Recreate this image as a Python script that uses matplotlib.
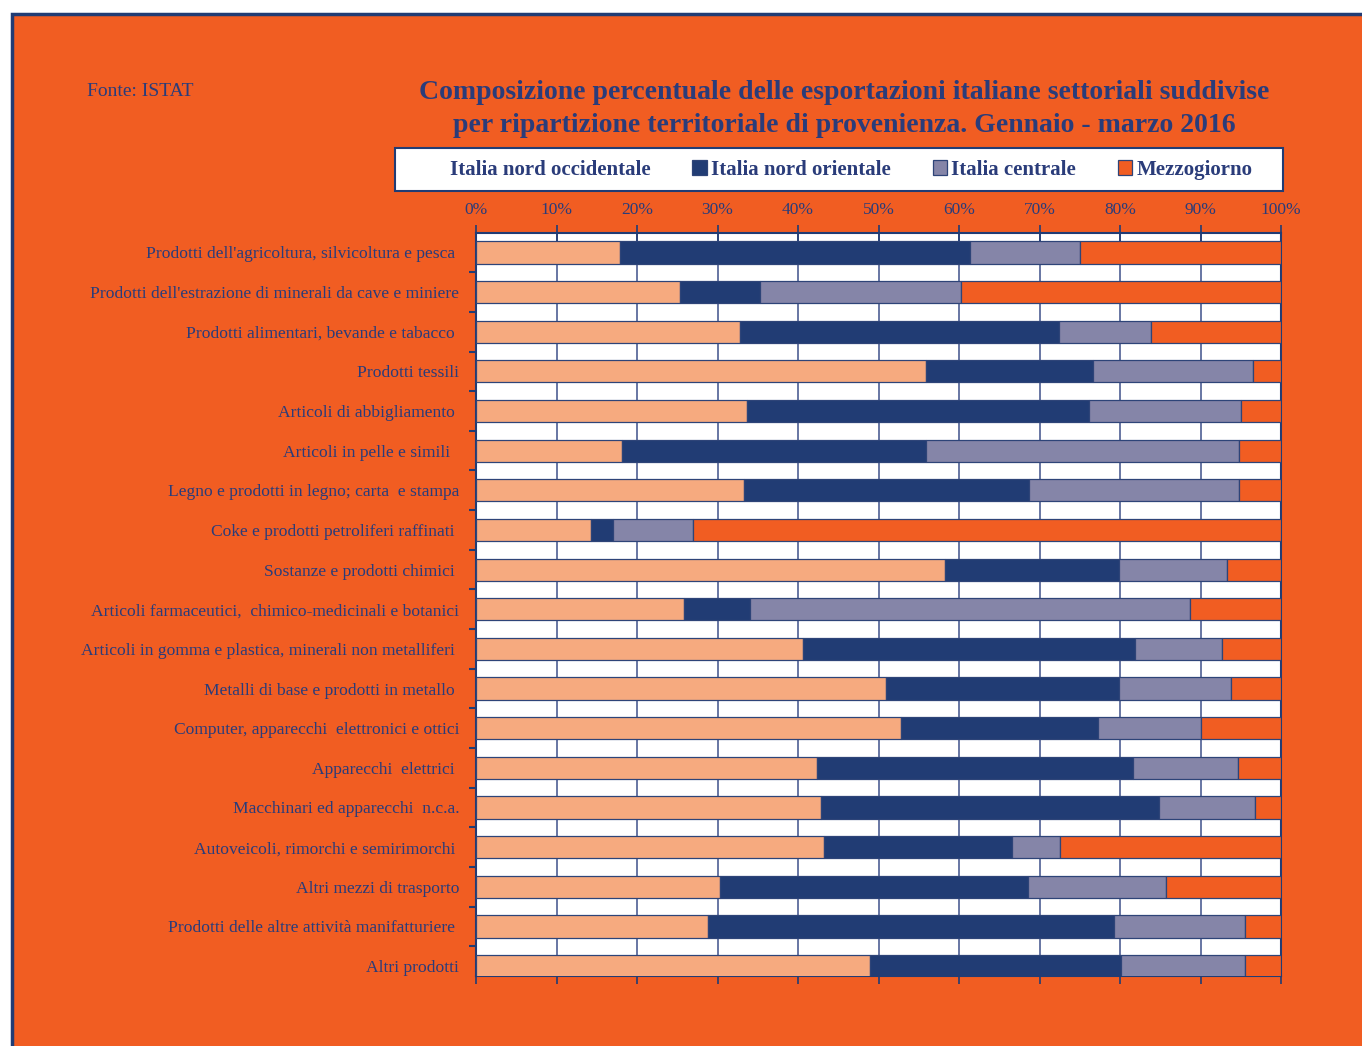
import matplotlib.pyplot as plt
import numpy as np
from matplotlib.patches import Rectangle


ORANGE = "#F15D22"
PEACH = "#F6AA7F"
NAVY = "#213C74"
GREY = "#8585A8"
TEXT = "#2A3C7A"

CATEGORIES = [
    "Prodotti dell'agricoltura, silvicoltura e pesca ",
    "Prodotti dell'estrazione di minerali da cave e miniere",
    "Prodotti alimentari, bevande e tabacco ",
    "Prodotti tessili",
    "Articoli di abbigliamento ",
    "Articoli in pelle e simili  ",
    "Legno e prodotti in legno; carta  e stampa",
    "Coke e prodotti petroliferi raffinati ",
    "Sostanze e prodotti chimici ",
    "Articoli farmaceutici,  chimico-medicinali e botanici",
    "Articoli in gomma e plastica, minerali non metalliferi ",
    "Metalli di base e prodotti in metallo ",
    "Computer, apparecchi  elettronici e ottici",
    "Apparecchi  elettrici ",
    "Macchinari ed apparecchi  n.c.a.",
    "Autoveicoli, rimorchi e semirimorchi ",
    "Altri mezzi di trasporto",
    "Prodotti delle altre attività manifatturiere ",
    "Altri prodotti",
]

# quote percentuali per ripartizione
nord_occ = [17.9, 25.3, 32.8, 55.9, 33.7, 18.1, 33.3, 14.3, 58.3, 25.8,
            40.6, 50.9, 52.8, 42.4, 42.9, 43.2, 30.3, 28.8, 48.9]
nord_or = [43.5, 10.0, 39.6, 20.7, 42.4, 37.8, 35.4, 2.7, 21.6, 8.2,
           41.3, 29.0, 24.5, 39.2, 41.9, 23.4, 38.3, 50.5, 31.2]
centrale = [13.6, 25.0, 11.5, 19.9, 18.9, 38.9, 26.1, 10.0, 13.4, 54.7,
            10.8, 13.9, 12.8, 13.0, 12.0, 5.9, 17.1, 16.2, 15.4]
mezzogiorno = [25.0, 39.7, 16.1, 3.5, 5.0, 5.2, 5.2, 73.0, 6.7, 11.3,
               7.3, 6.2, 9.9, 5.4, 3.2, 27.5, 14.3, 4.5, 4.5]

SERIES = ["Italia nord occidentale", "Italia nord orientale", "Italia centrale", "Mezzogiorno"]
COLORS = [PEACH, NAVY, GREY, ORANGE]

plt.rcParams["font.family"] = ["Liberation Serif", "DejaVu Serif"]

W, H = 1362, 1046
fig = plt.figure(figsize=(W / 100, H / 100), dpi=100, facecolor="white")

# orange panel with navy border (top and left)
fig.patches.append(Rectangle((12 / W, -0.01), 1.02, 1 - 14 / H + 0.01, transform=fig.transFigure,
                             facecolor=ORANGE, edgecolor=NAVY, linewidth=2.5, zorder=-10))
# white legend box
fig.patches.append(Rectangle((395 / W, 1 - 191 / H), 888 / W, 43 / H, transform=fig.transFigure,
                             facecolor="white", edgecolor=NAVY, linewidth=1.5, zorder=-5))

ax = fig.add_axes([476 / W, 1 - 976 / H, (1281 - 476) / W, (976 - 233) / H])
ax.set_facecolor("white")

y = np.arange(len(CATEGORIES))
left = np.zeros(len(CATEGORIES))
handles = []
for name, vals, col in zip(SERIES, [nord_occ, nord_or, centrale, mezzogiorno], COLORS):
    vals = np.array(vals)
    b = ax.barh(y, vals, left=left, height=0.56, color=col, edgecolor="#2E4478",
                linewidth=0.9, label=name, zorder=3)
    handles.append(b)
    left += vals

ax.set_xticks(np.arange(0, 101, 10))
ax.set_xticklabels([f"{v}%" for v in range(0, 101, 10)])
ax.xaxis.tick_top()
ax.tick_params(axis="x", which="both", top=True, bottom=True, labeltop=True, labelbottom=False,
               direction="inout", length=12, width=1.2, color=NAVY, labelsize=12.5,
               labelcolor=TEXT, pad=5)
ax.grid(axis="x", color="#5C6B9C", linewidth=1.3, zorder=1)
ax.set_axisbelow(True)

ax.set_yticks(y)
ax.set_yticklabels(CATEGORIES)
ax.set_yticks(np.arange(len(CATEGORIES)) + 0.5, minor=True)
ax.tick_params(axis="y", which="major", length=0, pad=12, labelsize=12.6, labelcolor=TEXT)
ax.tick_params(axis="y", which="minor", length=5, width=1.5, color=NAVY, direction="out")

# limits after the ticks, so the minor ticks do not widen them
ax.set_xlim(0, 100)
ax.set_ylim(len(CATEGORIES) - 0.75, -0.49)

for s in ax.spines.values():
    s.set_color(NAVY)
    s.set_linewidth(1.5)

fig.text(87 / W, 1 - 92 / H, "Fonte: ISTAT", fontsize=14, color=TEXT, va="center", ha="left")
fig.text(844 / W, 1 - 109 / H,
         "Composizione percentuale delle esportazioni italiane settoriali suddivise\n"
         "per ripartizione territoriale di provenienza. Gennaio - marzo 2016",
         fontsize=20, fontweight="bold", color=TEXT, ha="center", va="center",
         linespacing=1.37)

leg = fig.legend(handles=handles, labels=SERIES, ncol=4, loc="center",
                 bbox_to_anchor=(842 / W, 1 - 170 / H), frameon=False,
                 borderaxespad=0, handlelength=0.7, handleheight=0.7, handletextpad=0.2,
                 columnspacing=2.0, prop={"weight": "bold", "size": 15})
for t in leg.get_texts():
    t.set_color(TEXT)
leg.legend_handles[0].set_visible(False)

fig.savefig("out.png", dpi=100, facecolor=fig.get_facecolor())
